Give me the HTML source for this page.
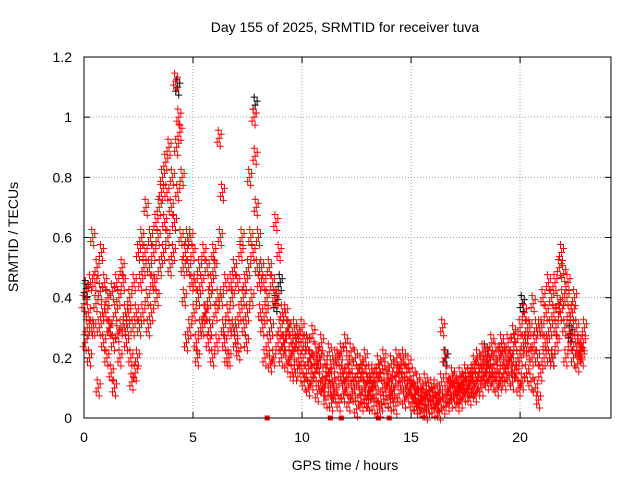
<!DOCTYPE html>
<html><head><meta charset="utf-8"><style>
body{margin:0;background:#fff;}
svg{display:block;font-family:"Liberation Sans",sans-serif;}
</style></head><body>
<svg id="chart" width="640" height="480" viewBox="0 0 640 480">
<rect width="640" height="480" fill="#fff"/>
<text x="345" y="32" font-size="14" text-anchor="middle">Day 155 of 2025, SRMTID for receiver tuva</text>
<text transform="translate(18,237) rotate(-90)" font-size="14" text-anchor="middle">SRMTID / TECUs</text>
<text x="345" y="470" font-size="14" text-anchor="middle">GPS time / hours</text>
<g id="grid"></g><g id="ticks"></g><g id="marks"></g>
<rect x="84" y="57" width="527" height="361" fill="none" stroke="#000" stroke-width="1"/>
</svg>
<script>
const hours=[0.0,0.2,0.4,0.6,0.8,1.0,1.2,1.4,1.6,1.8,2.0,2.2,2.4,2.6,2.8,3.0,3.2,3.4,3.6,3.8,4.0,4.2,4.4,4.6,4.8,5.0,5.2,5.4,5.6,5.8,6.0,6.2,6.4,6.6,6.8,7.0,7.2,7.4,7.6,7.8,8.0,8.2,8.4,8.6,8.8,9.0,9.2,9.4,9.6,9.8,10.0,10.2,10.4,10.6,10.8,11.0,11.2,11.4,11.6,11.8,12.0,12.2,12.4,12.6,12.8,13.0,13.2,13.4,13.6,13.8,14.0,14.2,14.4,14.6,14.8,15.0,15.2,15.4,15.6,15.8,16.0,16.2,16.4,16.6,16.8,17.0,17.2,17.4,17.6,17.8,18.0,18.2,18.4,18.6,18.8,19.0,19.2,19.4,19.6,19.8,20.0,20.2,20.4,20.6,20.8,21.0,21.2,21.4,21.6,21.8,22.0,22.2,22.4,22.6,22.8];
const redValues=[[0.38,0.25,0.42,0.3],[0.35,0.2,0.45,0.3],[0.6,0.3,0.45,0.38],[0.5,0.1,0.3,0.42],[0.55,0.35,0.25,0.45],[0.35,0.2,0.4,0.3],[0.3,0.15,0.42,0.25],[0.1,0.35,0.45,0.28],[0.4,0.2,0.3,0.5],[0.45,0.3,0.35,0.25],[0.3,0.35,0.4,0.2],[0.12,0.3,0.45,0.15],[0.35,0.2,0.55,0.3],[0.45,0.6,0.35,0.5],[0.55,0.7,0.4,0.3],[0.5,0.6,0.35,0.45],[0.55,0.45,0.65,0.4],[0.6,0.7,0.5,0.75],[0.8,0.55,0.65,0.85],[0.75,0.6,0.9,0.5],[0.7,0.8,0.55,0.65],[1.12,0.9,0.75,1.0],[0.95,0.6,0.8,0.5],[0.4,0.55,0.25,0.6],[0.5,0.3,0.6,0.45],[0.55,0.35,0.45,0.25],[0.2,0.4,0.5,0.3],[0.45,0.3,0.55,0.35],[0.35,0.5,0.25,0.4],[0.3,0.45,0.2,0.55],[0.5,0.35,0.25,0.4],[0.93,0.6,0.4,0.75],[0.3,0.25,0.45,0.2],[0.35,0.2,0.3,0.45],[0.4,0.3,0.5,0.25],[0.3,0.45,0.22,0.35],[0.55,0.6,0.4,0.3],[0.45,0.25,0.35,0.5],[0.8,0.6,0.4,0.55],[1.0,0.87,0.7,0.5],[0.6,0.45,0.35,0.5],[0.3,0.45,0.2,0.35],[0.4,0.25,0.5,0.18],[0.3,0.45,0.2,0.4],[0.65,0.4,0.25,0.55],[0.3,0.2,0.35,0.25],[0.25,0.35,0.18,0.3],[0.3,0.2,0.25,0.15],[0.22,0.3,0.15,0.25],[0.28,0.2,0.15,0.25],[0.3,0.2,0.12,0.25],[0.15,0.25,0.1,0.2],[0.2,0.12,0.28,0.18],[0.15,0.22,0.08,0.18],[0.2,0.12,0.25,0.1],[0.1,0.18,0.06,0.14],[0.15,0.22,0.1,0.05],[0.12,0.18,0.08,0.2],[0.1,0.2,0.05,0.15],[0.22,0.15,0.08,0.12],[0.25,0.1,0.18,0.05],[0.15,0.22,0.08,0.12],[0.1,0.2,0.03,0.15],[0.12,0.08,0.18,0.05],[0.15,0.1,0.2,0.06],[0.12,0.05,0.15,0.09],[0.1,0.15,0.04,0.12],[0.08,0.12,0.18,0.03],[0.15,0.05,0.1,0.2],[0.1,0.16,0.06,0.12],[0.12,0.05,0.18,0.08],[0.1,0.14,0.04,0.2],[0.15,0.08,0.12,0.18],[0.12,0.2,0.06,0.1],[0.15,0.08,0.18,0.1],[0.1,0.05,0.14,0.08],[0.08,0.04,0.12,0.06],[0.05,0.1,0.03,0.07],[0.06,0.12,0.02,0.08],[0.04,0.09,0.06,0.1],[0.07,0.03,0.1,0.05],[0.05,0.08,0.02,0.06],[0.12,0.3,0.04,0.2],[0.08,0.12,0.05,0.1],[0.1,0.06,0.14,0.08],[0.12,0.08,0.1,0.05],[0.09,0.14,0.06,0.11],[0.12,0.08,0.15,0.1],[0.1,0.14,0.07,0.12],[0.15,0.1,0.18,0.08],[0.12,0.2,0.1,0.15],[0.18,0.1,0.22,0.14],[0.15,0.2,0.12,0.18],[0.2,0.14,0.25,0.12],[0.18,0.15,0.22,0.1],[0.15,0.2,0.12,0.25],[0.22,0.15,0.12,0.2],[0.18,0.25,0.14,0.2],[0.2,0.12,0.28,0.16],[0.25,0.15,0.2,0.1],[0.3,0.2,0.12,0.25],[0.35,0.25,0.15,0.3],[0.22,0.3,0.12,0.2],[0.38,0.25,0.1,0.3],[0.2,0.06,0.3,0.15],[0.3,0.4,0.2,0.25],[0.35,0.25,0.45,0.2],[0.3,0.4,0.2,0.35],[0.45,0.3,0.25,0.38],[0.5,0.35,0.55,0.4],[0.48,0.3,0.2,0.4],[0.45,0.35,0.25,0.3],[0.35,0.2,0.4,0.25],[0.3,0.18,0.25,0.22],[0.22,0.2,0.25,0.3]];
const blackTimes=[0.1,4.3,7.85,8.8,9.0,16.6,18.4,20.1,21.5,22.3];
const blackValues=[0.43,1.1,1.04,0.38,0.45,0.2,0.22,0.38,0.2,0.28];
const gapTimes=[8.4,11.3,11.8,13.5,14.0];
const xTicks=[0,5,10,15,20];
const yTicks=[0,0.2,0.4,0.6,0.8,1,1.2];
const yTickLabels=["0","0.2","0.4","0.6","0.8","1","1.2"];

const X0=84,X1=611,Y0=418,Y1=57,XMAX=24.17,YMAX=1.2;
const sx=t=>X0+(X1-X0)*t/XMAX;
const sy=v=>Y0-(Y0-Y1)*v/YMAX;
const NS="http://www.w3.org/2000/svg";
const grid=document.getElementById('grid'),ticks=document.getElementById('ticks'),marks=document.getElementById('marks');
function mk(tag,attrs,parent){const e=document.createElementNS(NS,tag);for(const k in attrs)e.setAttribute(k,attrs[k]);parent.appendChild(e);return e;}
xTicks.forEach(t=>{
  const x=sx(t);
  if(t>0){const g=mk('line',{x1:x,x2:x,y1:Y1,y2:Y0,stroke:'#a0a0a0','stroke-dasharray':'1,2'},grid);
  
  }
  mk('line',{x1:x,x2:x,y1:Y0,y2:Y0-6,stroke:'#000'},ticks);
  mk('line',{x1:x,x2:x,y1:Y1,y2:Y1+6,stroke:'#000'},ticks);
  const l=mk('text',{x:x,y:Y0+24,'font-size':14,'text-anchor':'middle'},ticks);l.textContent=t;
  
  
});
yTicks.forEach((v,i)=>{
  const y=sy(v);
  if(v>0&&v<YMAX){const g=mk('line',{x1:X0,x2:X1,y1:y,y2:y,stroke:'#a0a0a0','stroke-dasharray':'1,2'},grid);
  
  }
  mk('line',{x1:X0,x2:X0+6,y1:y,y2:y,stroke:'#000'},ticks);
  mk('line',{x1:X1,x2:X1-6,y1:y,y2:y,stroke:'#000'},ticks);
  const l=mk('text',{x:X0-12,y:y+5,'font-size':14,'text-anchor':'end'},ticks);l.textContent=yTickLabels[i];
  
  
});
function plus(x,y){return `M${x-3.5},${y}h7M${x},${y-3.5}v7`;}
// each sample is drawn as a small cluster glyph to mimic dense overlapping samples
function cluster(x,y){return plus(x,y)+plus(x+2,y-4)+plus(x-2,y+4)+plus(x+1,y+8)+plus(x-1,y-8);}
let bd='';
blackTimes.forEach((t,i)=>{bd+=cluster(sx(t),sy(blackValues[i]));});
const bp=mk('path',{d:bd,stroke:'#000','stroke-width':1,fill:'none'},marks);


let rd='';
hours.forEach((t,i)=>{redValues[i].forEach((v,k)=>{rd+=cluster(sx(t+k*0.05),sy(v));});});
const rp=mk('path',{d:rd,stroke:'#ff0000','stroke-width':1,fill:'none'},marks);


gapTimes.forEach(t=>{
  const r=mk('rect',{x:sx(t)-2.5,y:Y0-2.5,width:5,height:5,fill:'#ff0000'},marks);
  
  
});
</script>
</body></html>
